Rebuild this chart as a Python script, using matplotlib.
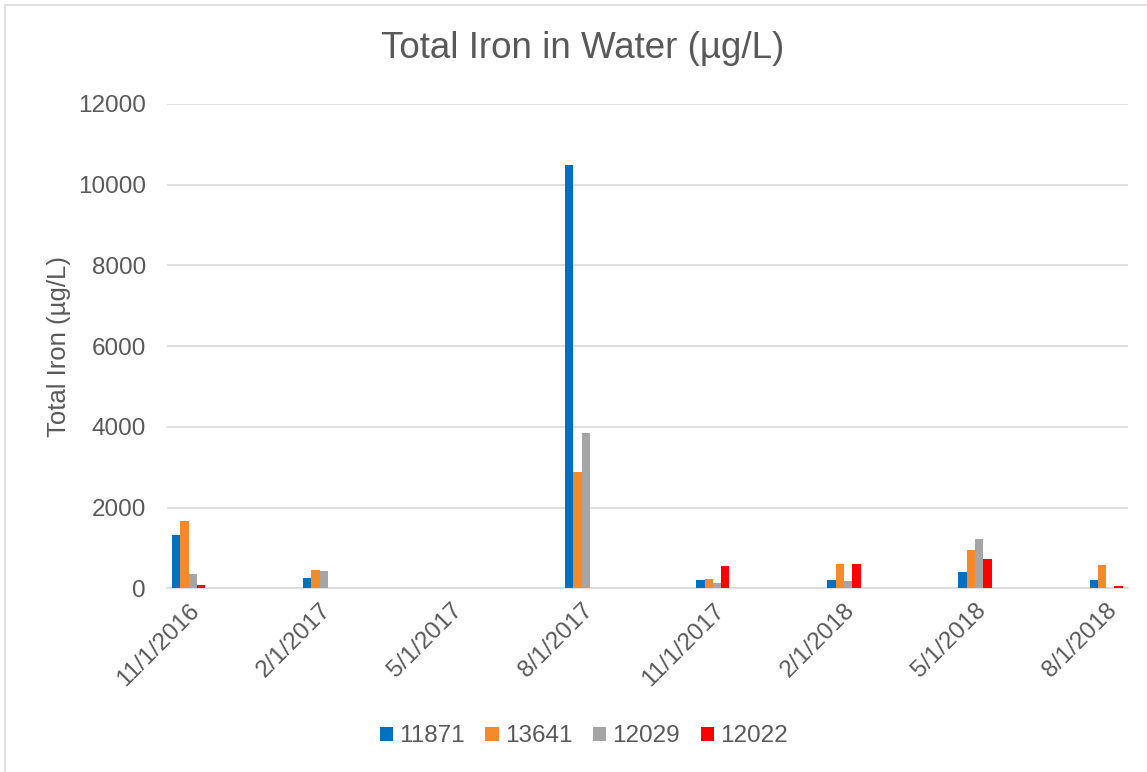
import numpy as np
import pandas as pd
import matplotlib
matplotlib.use("Agg")
import matplotlib.pyplot as plt
from matplotlib.patches import Rectangle

# data (ug/L), NaN = no sample
dates = ["11/1/2016", "2/1/2017", "5/1/2017", "8/1/2017",
         "11/1/2017", "2/1/2018", "5/1/2018", "8/1/2018"]
site_names = ["11871", "13641", "12029", "12022"]
fe_11871 = [1320, 245, np.nan, 10480, 205, 215, 400, 205]
fe_13641 = [1675, 445, np.nan, 2890, 225, 600, 940, 585]
fe_12029 = [360, 420, np.nan, 3850, 130, 180, 1220, np.nan]
fe_12022 = [90, np.nan, np.nan, np.nan, 550, 600, 735, 50]
colors = ["#0070C0", "#F58A2B", "#A5A5A5", "#FF0000"]

series = [fe_11871, fe_13641, fe_12029, fe_12022]
txt = "#595959"

#month index on the date axis (one slot per month)
d = pd.to_datetime(dates, format="%m/%d/%Y")
m = (d.year - d[0].year) * 12 + (d.month - d[0].month)
m = np.array(m)
nmonths = m[-1] + 1

fig = plt.figure(figsize=(11.47, 7.72), dpi=100)
plt.rcParams['font.family'] = ['Liberation Sans', 'DejaVu Sans']
ax = fig.add_axes([0.1453, 0.238, 0.8381, 0.6273])

w = 0.19
for i, vals in enumerate(series):
    ax.bar(m + (i - 1.5) * w, vals, width=w, color=colors[i],
           label=site_names[i], zorder=3)

ax.set_xlim(-0.5, nmonths - 0.5)
ax.set_ylim(0, 12000)
ax.set_yticks(np.arange(0, 12001, 2000))
ax.set_xticks(m)
ax.set_xticklabels(dates, rotation=45, ha="right", rotation_mode="anchor")
ax.tick_params(axis="x", length=0, pad=8, labelsize=17.5, labelcolor=txt)
ax.tick_params(axis="y", length=0, pad=15, labelsize=17.5, labelcolor=txt)
ax.grid(axis="y", color="#D9D9D9", linewidth=1.2, zorder=0)
for s in ["top", "right", "left"]:
    ax.spines[s].set_visible(False)
ax.spines["bottom"].set_color("#D9D9D9")
ax.spines["bottom"].set_linewidth(1.2)

ax.set_ylabel("Total Iron (µg/L)", fontsize=18.5, color=txt, labelpad=5)
fig.text(0.508, 0.937, "Total Iron in Water (µg/L)", fontsize=26.5,
         color=txt, ha="center", va="center")

fig.legend(loc="center", bbox_to_anchor=(0.509, 0.046), ncol=4,
           frameon=False, fontsize=17.5, labelcolor=txt, handlelength=0.55,
           handleheight=0.55, handletextpad=0.25, columnspacing=0.85)

# chart border
fig.patches.append(Rectangle((5 / 1147, -0.01), 1.0, 1.0 - 5 / 772 + 0.01,
                             transform=fig.transFigure, fill=False,
                             edgecolor="#D9D9D9", linewidth=1.2))

fig.savefig("out.png", dpi=100)
